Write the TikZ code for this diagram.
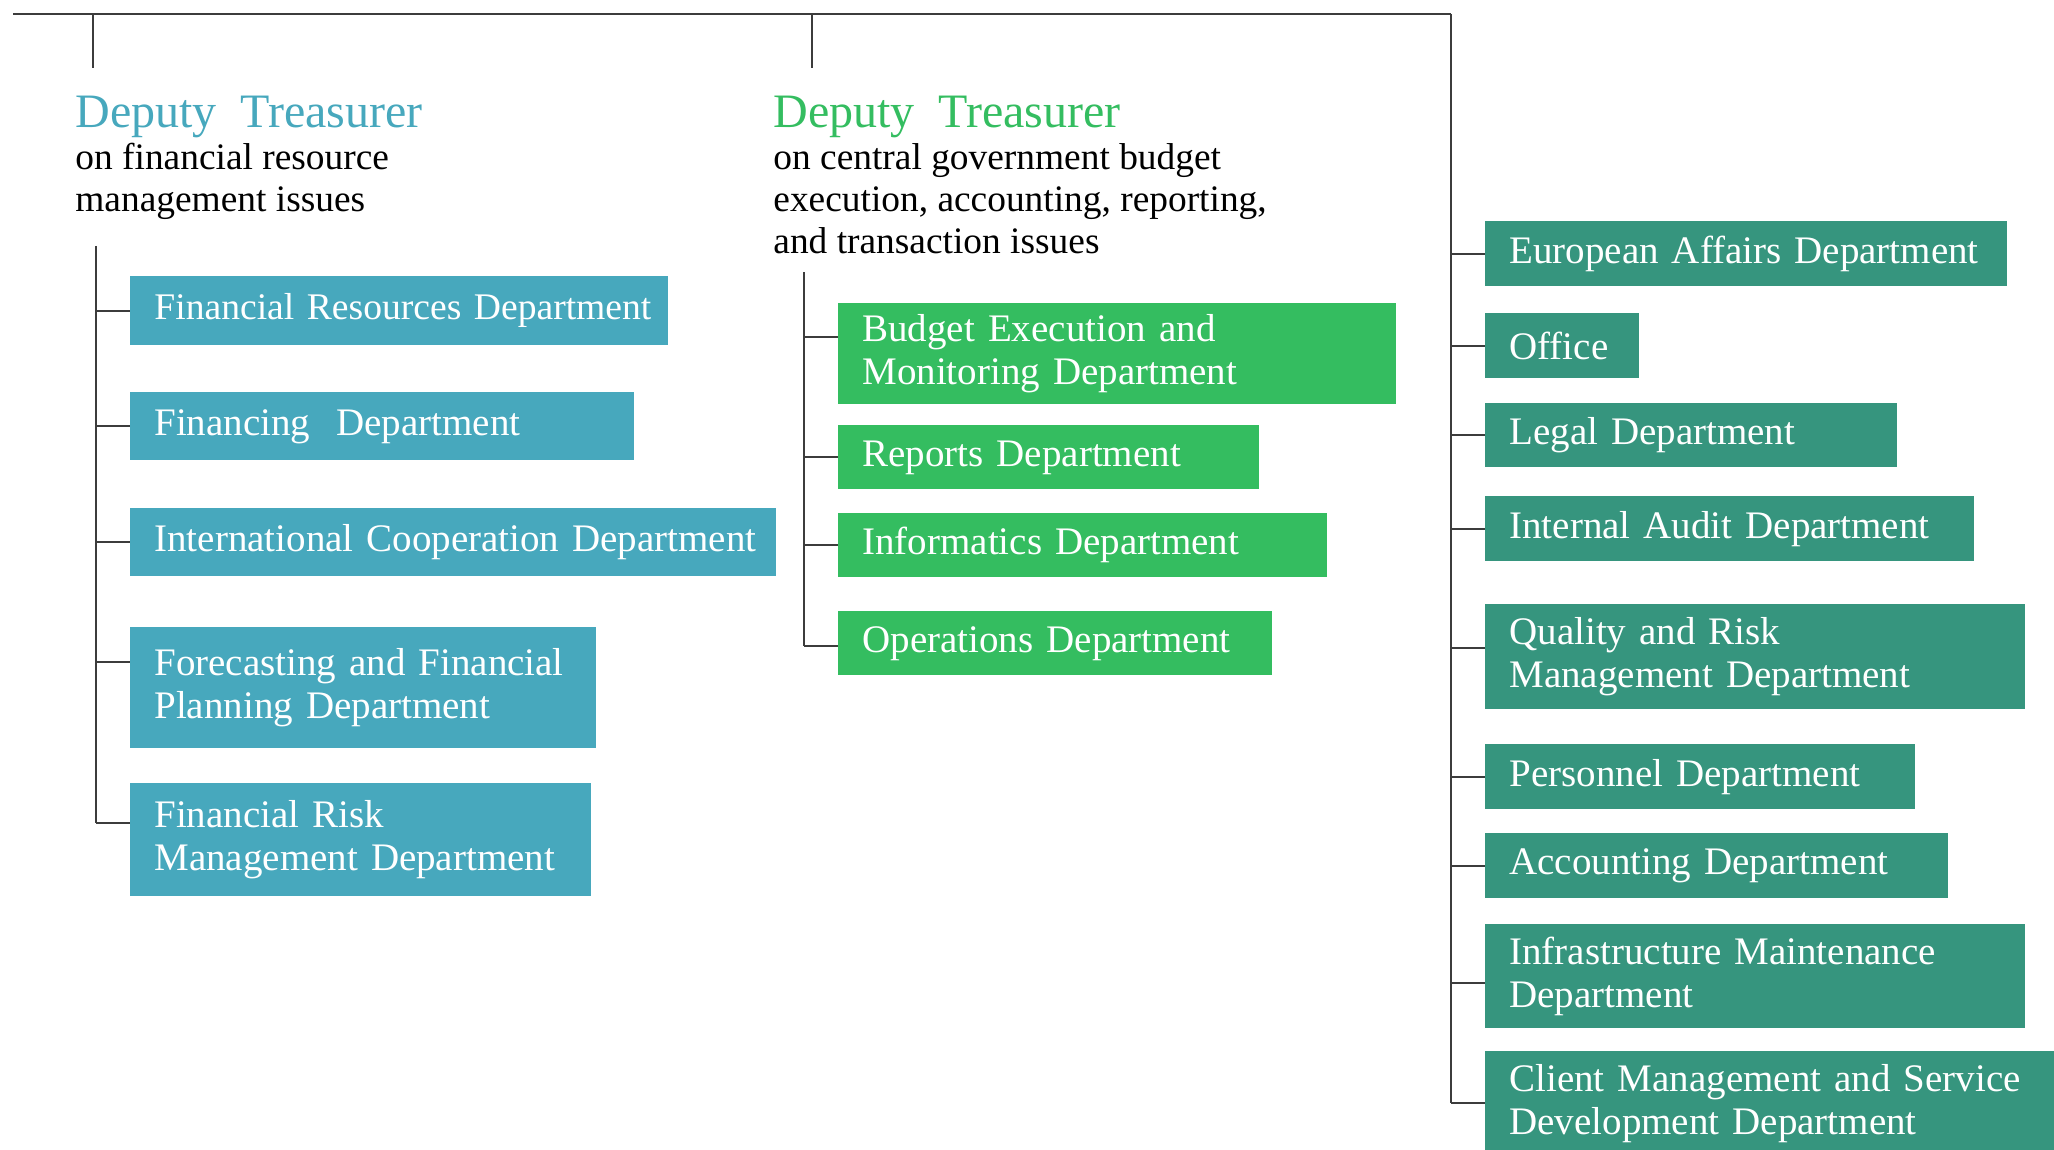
\documentclass[tikz,border=0pt]{standalone}
\usepackage{fontspec}
\setmainfont{Liberation Serif}
\definecolor{deputyblue}{RGB}{71,168,189}
\definecolor{deputygreen}{RGB}{52,189,96}
\definecolor{staffgreen}{RGB}{54,149,126}
\definecolor{linegray}{RGB}{60,60,60}
\begin{document}
\begin{tikzpicture}[x=0.5pt,y=-0.5pt,
	box_node/.style={anchor=north west,inner xsep=12pt,inner ysep=0pt,text=white,font=\fontsize{19.5}{21.5}\selectfont,
		execute at begin node={\parindent=0pt\hyphenpenalty=10000\linepenalty=5000\leftskip=0pt\rightskip=0pt plus 1fil minus 24pt\relax}},
	blue_node/.style={box_node,fill=deputyblue},
	green_node/.style={box_node,fill=deputygreen},
	staff_node/.style={box_node,fill=staffgreen},
	head_node/.style={anchor=base west,inner sep=0pt,font=\fontsize{24}{28}\selectfont},
	sub_node/.style={anchor=base west,inner sep=0pt,align=left,font=\fontsize{18.7}{21}\selectfont},
	tree_line/.style={draw=linegray,line width=1pt}]
		
		\clip (0,0) rectangle (2054,1150);
		
		% top line and heads
		\coordinate (top_l) at (13,14);
		\coordinate (top_r) at (1451,14);
		\coordinate (tick_l) at (93,68);
		\coordinate (tick_m) at (812,68);
		\draw[tree_line] (top_l) -- (top_r);
		\draw[tree_line] (tick_l |- top_l) -- (tick_l);
		\draw[tree_line] (tick_m |- top_l) -- (tick_m);
		
		\node[head_node,text=deputyblue] (dt1) at (75,128) {Deputy\ \ Treasurer};
		\node[sub_node] (dt1_sub) at (75,212) {on financial resource\\management issues};
		\node[head_node,text=deputygreen] (dt2) at (773,128) {Deputy\ \ Treasurer};
		\node[sub_node] (dt2_sub) at (773,254) {on central government budget\\execution, accounting, reporting,\\and transaction issues};
		
		% first deputy
		\node[blue_node,font=\fontsize{18.8}{21.5}\selectfont,minimum width=269pt,minimum height=34.5pt,text width=245pt] (fr) at (130,276) {Financial Resources Department};
		\node[blue_node,minimum width=252pt,minimum height=34pt,text width=228pt] (fin) at (130,392) {Financing\ \ Department};
		\node[blue_node,minimum width=323pt,minimum height=34pt,text width=299pt] (intc) at (130,508) {International Cooperation Department};
		\node[blue_node,minimum width=233pt,minimum height=60.5pt,text width=209pt] (fore) at (130,627) {Forecasting and Financial\\Planning Department};
		\node[blue_node,minimum width=230.5pt,minimum height=56.5pt,text width=206.5pt] (risk) at (130,783) {Financial Risk\\Management Department};
		
		\coordinate (trunk1_top) at (96,246);
		\coordinate (trunk1_bot) at (96,823);
		\draw[tree_line] (trunk1_top) -- (trunk1_bot);
		\draw[tree_line] (trunk1_top |- fr.west) -- (fr.west);
		\draw[tree_line] (trunk1_top |- fin.west) -- (fin.west);
		\draw[tree_line] (trunk1_top |- intc.west) -- (intc.west);
		\draw[tree_line] ([yshift=-17.5pt]fore.north west -| trunk1_top) -- ([yshift=-17.5pt]fore.north west);
		\draw[tree_line] (trunk1_bot) -- (trunk1_bot -| risk.west);
		
		% second deputy
		\node[green_node,minimum width=279pt,minimum height=50.5pt,text width=255pt] (bud) at (838,303) {Budget Execution and\\Monitoring Department};
		\node[green_node,minimum width=210.5pt,minimum height=32pt,text width=186.5pt] (rep) at (838,425) {Reports Department};
		\node[green_node,minimum width=244.5pt,minimum height=32pt,text width=220.5pt] (inf) at (838,513) {Informatics Department};
		\node[green_node,minimum width=217pt,minimum height=32pt,text width=193pt] (ope) at (838,611) {Operations Department};
		
		\coordinate (trunk2_top) at (804,272);
		\coordinate (trunk2_bot) at (804,646);
		\draw[tree_line] (trunk2_top) -- (trunk2_bot);
		\draw[tree_line] ([yshift=-17pt]bud.north west -| trunk2_top) -- ([yshift=-17pt]bud.north west);
		\draw[tree_line] (trunk2_top |- rep.west) -- (rep.west);
		\draw[tree_line] (trunk2_top |- inf.west) -- (inf.west);
		\draw[tree_line] (trunk2_bot) -- (trunk2_bot -| ope.west);
		
		% staff departments
		\node[staff_node,minimum width=261pt,minimum height=32.5pt,text width=237pt] (eu) at (1485,221) {European Affairs Department};
		\node[staff_node,minimum width=77pt,minimum height=32.5pt,text width=53pt] (off) at (1485,313) {Office};
		\node[staff_node,minimum width=206pt,minimum height=32pt,text width=182pt] (leg) at (1485,403) {Legal Department};
		\node[staff_node,minimum width=244.5pt,minimum height=32.5pt,text width=220.5pt] (aud) at (1485,496) {Internal Audit Department};
		\node[staff_node,minimum width=270pt,minimum height=52.5pt,text width=246pt] (qual) at (1485,604) {Quality and Risk\\Management Department};
		\node[staff_node,minimum width=215pt,minimum height=32.5pt,text width=191pt] (pers) at (1485,744) {Personnel Department};
		\node[staff_node,minimum width=231.5pt,minimum height=32.5pt,text width=207.5pt] (acc) at (1485,833) {Accounting Department};
		\node[staff_node,minimum width=270pt,minimum height=52pt,text width=246pt] (infra) at (1485,924) {Infrastructure Maintenance\\Department};
		\node[staff_node,minimum width=300pt,minimum height=52pt,text width=276pt] (cli) at (1485,1051) {Client Management and Service\\Development Department};
		
		\coordinate (trunk3_bot) at (1451,1103);
		\draw[tree_line] (top_r) -- (trunk3_bot);
		\draw[tree_line] (top_r |- eu.west) -- (eu.west);
		\draw[tree_line] (top_r |- off.west) -- (off.west);
		\draw[tree_line] (top_r |- leg.west) -- (leg.west);
		\draw[tree_line] (top_r |- aud.west) -- (aud.west);
		\draw[tree_line] ([yshift=-22pt]qual.north west -| top_r) -- ([yshift=-22pt]qual.north west);
		\draw[tree_line] (top_r |- pers.west) -- (pers.west);
		\draw[tree_line] (top_r |- acc.west) -- (acc.west);
		\draw[tree_line] ([yshift=-29.5pt]infra.north west -| top_r) -- ([yshift=-29.5pt]infra.north west);
		\draw[tree_line] (trunk3_bot) -- (trunk3_bot -| cli.west);
		\end{tikzpicture}
\end{document}
